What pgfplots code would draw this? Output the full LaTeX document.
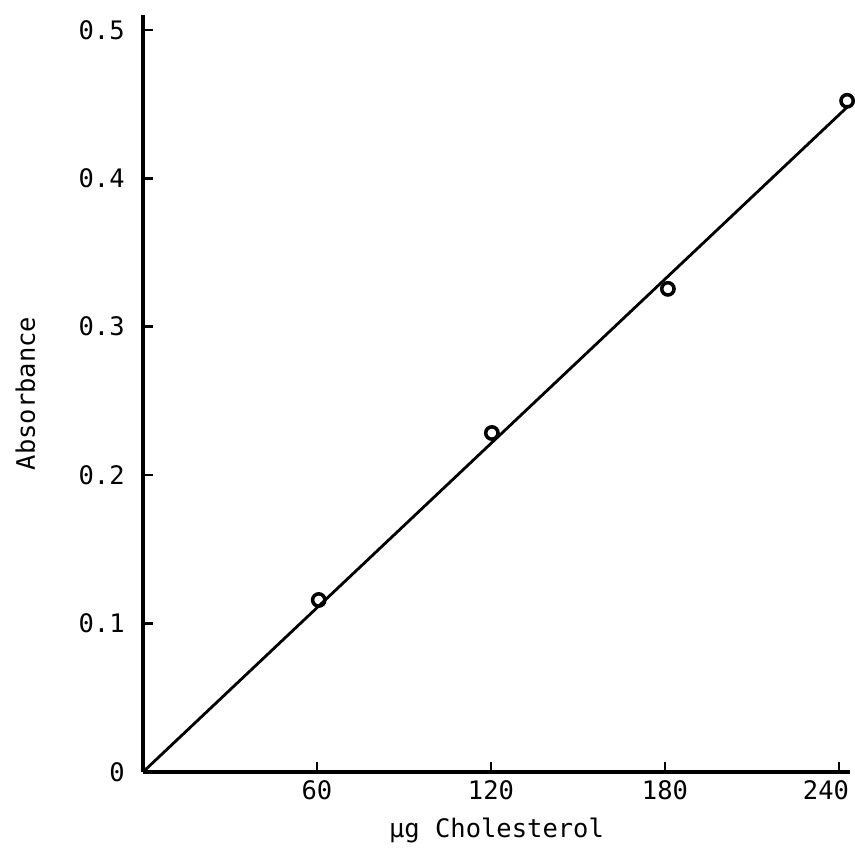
\documentclass[border=0pt]{standalone}
\usepackage{fontspec}
\setmainfont{DejaVu Sans Mono}
\usepackage{pgfplots}
\pgfplotsset{compat=1.18}

\begin{document}
\begin{tikzpicture}
\useasboundingbox (-2.86cm,-1.62cm) rectangle (14.24cm,15.44cm);
\begin{axis}[
  scale only axis,
  anchor=origin, at={(0,0)},
  width=14.14cm, height=15.14cm,
  xmin=0, xmax=243.8, ymin=0, ymax=0.51,
  axis lines=left,
  axis line style={-, line width=1.8pt},
  tick align=inside,
  major tick length=0.2cm,
  tick style={line width=1.4pt, black},
  xtick={60,120,180,240},
  xticklabels={60,120,180,{\makebox[0pt]{240\hspace{0.52cm}}}},
  ytick={0,0.1,0.2,0.3,0.4,0.5},
  yticklabels={0,0.1,0.2,0.3,0.4,0.5},
  /pgf/number format/assume math mode=true,
  tick label style={font=\fontsize{14.5}{16}\selectfont},
  yticklabel style={anchor=east, inner sep=0pt},
  yticklabel shift=0.36cm,
  xticklabel style={anchor=north, inner sep=0pt},
  xticklabel shift=0.16cm,
  label style={font=\fontsize{14.5}{16}\selectfont},
  xlabel={µg Cholesterol},
  ylabel={Absorbance},
  xlabel style={at={(axis description cs:0.5,0)}, anchor=base, yshift=-1.3cm, inner sep=0pt},
  ylabel style={at={(axis description cs:-0.1528,0.5)}, anchor=base, inner sep=0pt},
  clip=false,
]
% fitted calibration line
\addplot[black, line width=1.6pt, mark=none] coordinates {
  (0,0) (243.4,0.449)
};
% measured points
\addplot[only marks, mark=o, mark size=3.5pt, mark options={line width=2pt, black}] coordinates {
  (60.6,0.1159) (120.3,0.2284) (181,0.3255) (242.8,0.4522)
};
\end{axis}
\end{tikzpicture}
\end{document}
